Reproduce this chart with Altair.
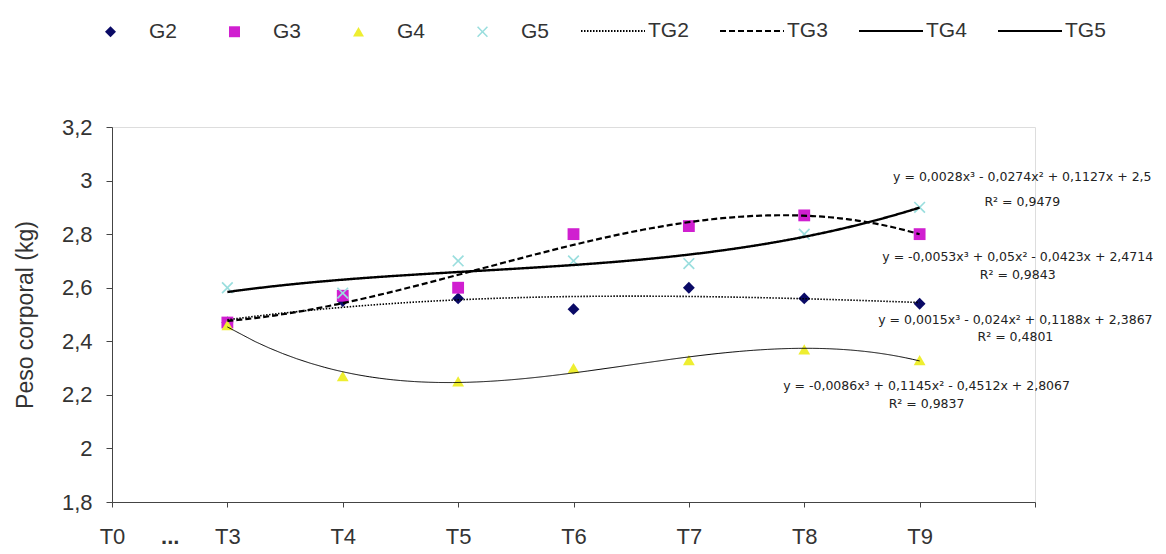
import altair as alt
import pandas as pd

# ---- data ----
x_index = [1, 2, 3, 4, 5, 6, 7]          # T3 .. T9
g2 = [2.47, 2.55, 2.56, 2.52, 2.60, 2.56, 2.54]
g3 = [2.47, 2.57, 2.60, 2.80, 2.83, 2.87, 2.80]
g4 = [2.46, 2.27, 2.25, 2.30, 2.33, 2.37, 2.33]
g5 = [2.60, 2.58, 2.70, 2.70, 2.69, 2.80, 2.90]
series_names = ["G2", "G3", "G4", "G5"]
trend_names = ["TG2", "TG3", "TG4", "TG5"]

tick_values = [0, 0.5, 1, 2, 3, 4, 5, 6, 7, 8]
tick_labels = ["T0", "...", "T3", "T4", "T5", "T6", "T7", "T8", "T9", ""]
y_ticks = [1.8, 2.0, 2.2, 2.4, 2.6, 2.8, 3.0, 3.2]

eq_text = [
    "y = 0,0028x³ - 0,0274x² + 0,1127x + 2,5", "R² = 0,9479",
    "y = -0,0053x³ + 0,05x² - 0,0423x + 2,4714", "R² = 0,9843",
    "y = 0,0015x³ - 0,024x² + 0,1188x + 2,3867", "R² = 0,4801",
    "y = -0,0086x³ + 0,1145x² - 0,4512x + 2,8067", "R² = 0,9837",
]
eq_x = [7.89, 7.89, 7.85, 7.85, 7.83, 7.83, 7.06, 7.06]
eq_y = [3.013, 2.921, 2.716, 2.648, 2.48, 2.417, 2.233, 2.166]

# ---- styles ----
point_colors = ["#0a0a66", "#d01fd0", "#eeee30", "#9adede"]
x_shape = "M-1,-0.8L-0.8,-1L0,-0.2L0.8,-1L1,-0.8L0.2,0L1,0.8L0.8,1L0,0.2L-0.8,1L-1,0.8L-0.2,0Z"
point_shapes = ["diamond", "square", "triangle-up", x_shape]
dashes = [[1.5, 1.5], [6, 3], [1, 0], [1, 0]]
widths = [1.6, 2.2, 1.0, 2.4]
FONT = "Liberation Sans"

rows = []
for name, vals in zip(series_names, [g2, g3, g4, g5]):
    for xi, v in zip(x_index, vals):
        rows.append({"series": name, "x": xi, "value": v})
df = pd.DataFrame(rows)
eq_df = pd.DataFrame({"text": eq_text, "x": eq_x, "y": eq_y})

label_expr = "''"
for v, l in reversed(list(zip(tick_values, tick_labels))):
    label_expr = f"datum.value == {v} ? '{l}' : ({label_expr})"

x_enc = alt.X("x:Q", scale=alt.Scale(domain=[0, 8], nice=False, zero=False),
              axis=alt.Axis(values=tick_values, labelExpr=label_expr, title=None,
                            grid=False, tickSize=5, labelPadding=19, labelFontSize=22,
                            labelFont=FONT, labelColor="#333", labelFlush=False,
                            tickOpacity={"condition": {"test": "datum.value == 0.5", "value": 0}, "value": 1},
                            labelFontWeight={"condition": {"test": "datum.value == 0.5", "value": "bold"}, "value": "normal"},
                            domainColor="#444", tickColor="#444"))
y_enc_axis = alt.Axis(values=y_ticks, labelExpr="replace(format(datum.value, '.1~f'), '.', ',')",
                      title="Peso corporal (kg)", titleFont=FONT, titleFontSize=23,
                      titleFontWeight="normal", titleColor="#333", titlePadding=24,
                      grid=False, tickSize=6, labelPadding=14, labelFontSize=22,
                      labelFont=FONT, labelColor="#333", domainColor="#444", tickColor="#444")
y_scale = alt.Scale(domain=[1.8, 3.2], nice=False, zero=False)

pt_legend = alt.Legend(title=None, orient="none", legendX=-12, legendY=-106,
                       direction="horizontal", labelFontSize=21, labelFont=FONT,
                       labelColor="#333", symbolSize=120, labelOffset=28,
                       columnPadding=46, padding=0)
points = alt.Chart(df).mark_point(filled=True, size=140, opacity=1).encode(
    x=x_enc,
    y=alt.Y("value:Q", scale=y_scale, axis=y_enc_axis),
    color=alt.Color("series:N", scale=alt.Scale(domain=series_names, range=point_colors), legend=pt_legend),
    shape=alt.Shape("series:N", scale=alt.Scale(domain=series_names, range=point_shapes), legend=pt_legend),
    order=alt.Order("series:N"),
)

ln_legend = alt.Legend(title=None, orient="none", legendX=468, legendY=-129,
                       direction="horizontal", labelFontSize=21, labelFont=FONT,
                       labelColor="#333", symbolType="stroke", symbolSize=4096,
                       symbolStrokeColor="black", symbolStrokeWidth=1.8,
                       labelOffset=2, columnPadding=27, padding=0)

line_layers = []
for name, tname, vals, w in zip(series_names, trend_names, [g2, g3, g4, g5], widths):
    tdf = pd.DataFrame({"t": [float(v) for v in x_index], "peso": vals, "trend": [tname] * len(vals)})
    line_layers.append(
        alt.Chart(tdf).transform_regression(
            "t", "peso", method="poly", order=3
        ).transform_calculate(
            trend=f"'{tname}'"
        ).mark_line(color="black", strokeWidth=w).encode(
            x="t:Q",
            y="peso:Q",
            order="t:Q",
            strokeDash=alt.StrokeDash("trend:N", scale=alt.Scale(domain=trend_names, range=dashes),
                                      legend=ln_legend),
        )
    )

eqs = alt.Chart(eq_df).mark_text(font="DejaVu Sans", fontSize=12.5, color="#222",
                                 align="center", baseline="middle").encode(
    x="x:Q", y="y:Q", text="text:N")

chart = alt.layer(points, *line_layers, eqs).properties(
    width=923, height=375,
    padding={"left": 104, "top": 119, "right": 123, "bottom": 50},
    autosize=alt.AutoSizeParams(type="none"),
).configure_view(stroke=None).configure(background="white")

chart.save("out.html", embed_options={"renderer": "svg", "actions": False})
